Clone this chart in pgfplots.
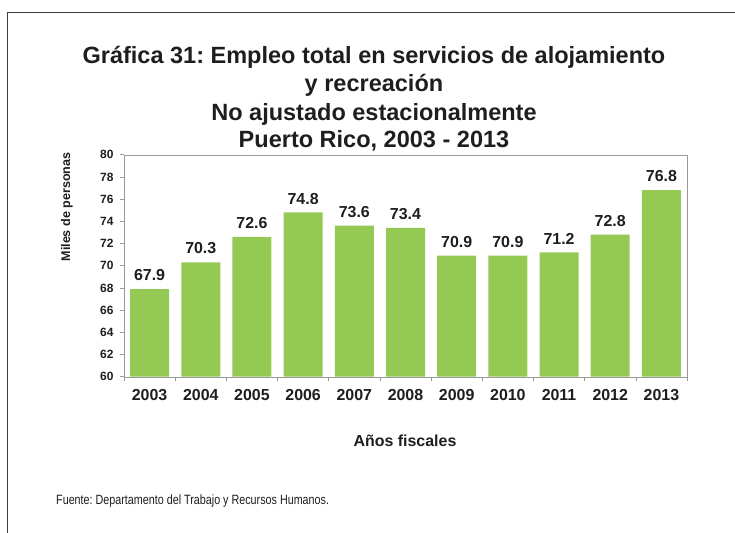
\documentclass[border=0pt]{standalone}
\usepackage{fontspec}
\setmainfont{Liberation Sans}
\newfontfamily\narrowfont{Liberation Sans}[FakeStretch=0.8]
\usepackage{pgfplots}
\pgfplotsset{compat=1.18}
\definecolor{barverde}{RGB}{148,201,84}
\definecolor{marco}{RGB}{60,60,60}
\definecolor{texto}{RGB}{30,30,30}
\frenchspacing

\begin{document}
\begin{tikzpicture}
\useasboundingbox (0,0) rectangle (735bp,-533bp);
\draw[marco, line width=1.2bp] (7.3bp,-533bp) -- (7.3bp,-12.7bp) -- (735bp,-12.7bp);

% titulo
\begin{scope}[every node/.style={anchor=base, inner sep=0pt, text=texto,
    font=\bfseries\fontsize{23.6}{28}\selectfont}]
\node at (374bp,-63.3bp) {Gráfica 31: Empleo total en servicios de alojamiento};
\node at (374bp,-91.7bp) {y recreación};
\node at (374bp,-120bp) {No ajustado estacionalmente};
\node at (374bp,-147.7bp) {Puerto Rico, 2003 - 2013};
\end{scope}

\begin{axis}[
    at={(124bp,-376.7bp)}, anchor=south west,
    scale only axis, width=563bp, height=222bp,
    xmin=-0.5, xmax=10.5, ymin=60, ymax=80,
    ytick={60,62,...,80},
    xtick={-0.5,0.5,...,10.5},
    xticklabels={2003,2004,2005,2006,2007,2008,2009,2010,2011,2012,2013,{}},
    xticklabel style={xshift=25.59bp, yshift=-5bp, font=\bfseries\fontsize{16}{16}\selectfont, text=texto},
    yticklabel style={xshift=-3bp, font=\bfseries\fontsize{12}{12}\selectfont, text=texto},
    /pgf/number format/assume math mode=true,
    xtick pos=bottom, ytick pos=left,
    tick align=outside, major tick length=4bp,
    axis line style={black!40},
    tick style={black!40, line width=0.6bp},
    ybar, bar width=39bp, bar shift=0pt,
    nodes near coords={\pgfmathprintnumber[fixed,fixed zerofill,precision=1]{\pgfplotspointmeta}},
    nodes near coords align={vertical},
    every node near coord/.append style={inner sep=0pt, yshift=8bp, text=texto,
        font=\bfseries\fontsize{16}{16}\selectfont},
]
\addplot[fill=barverde, draw=none] coordinates {
    (0,67.9) (1,70.3) (2,72.6) (3,74.8) (4,73.6) (5,73.4)
    (6,70.9) (7,70.9) (8,71.2) (9,72.8) (10,76.8)
};
\end{axis}

\node[rotate=90, inner sep=0pt, text=texto, font=\bfseries\fontsize{12.6}{13}\selectfont]
    at (67bp,-207bp) {Miles de personas};
\node[anchor=base, inner sep=0pt, text=texto, font=\bfseries\fontsize{16}{16}\selectfont]
    at (405bp,-446bp) {Años fiscales};
\node[anchor=base west, inner sep=0pt, text=texto, font=\narrowfont\fontsize{13.5}{14}\selectfont]
    at (56bp,-504bp) {Fuente: Departamento del Trabajo y Recursos Humanos.};
\end{tikzpicture}
\end{document}
